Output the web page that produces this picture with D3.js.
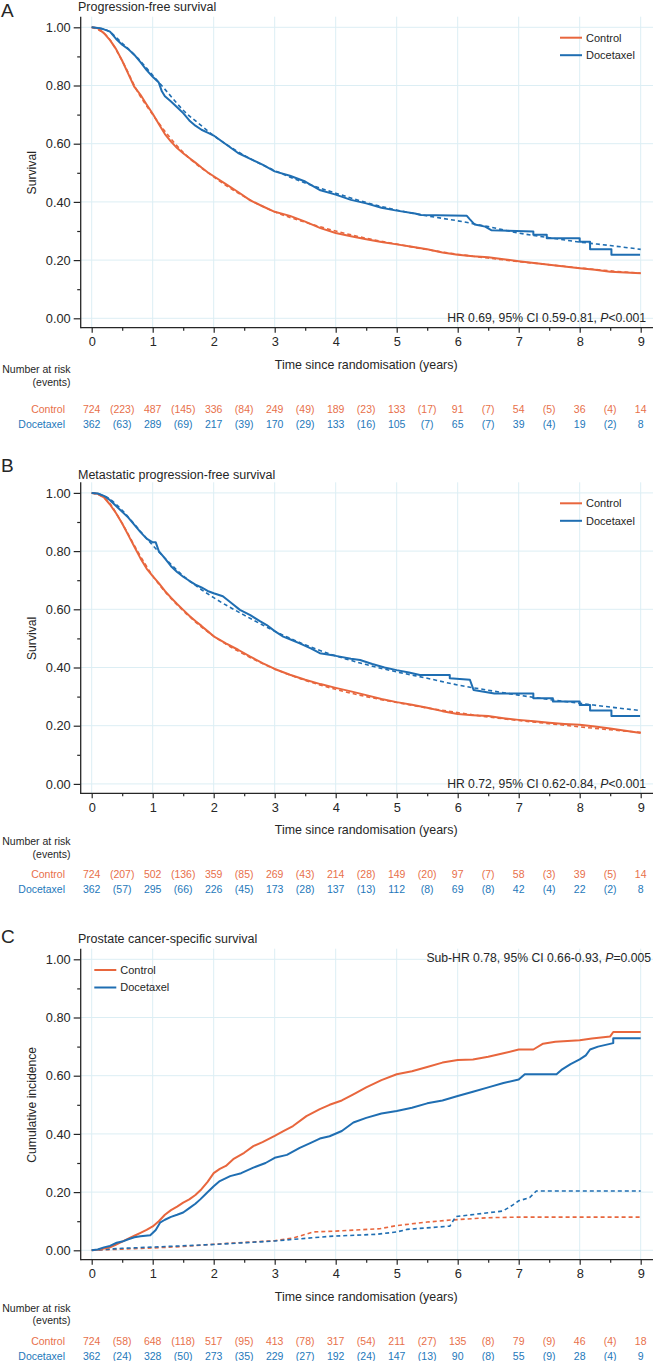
<!DOCTYPE html>
<html><head><meta charset="utf-8">
<script src="https://cdn.jsdelivr.net/npm/d3@7"></script>
<style>body{margin:0;background:#fff} svg{display:block} text{font-family:"Liberation Sans",Arial,Helvetica,sans-serif}</style>
</head><body><svg id="c" width="653" height="1361"></svg>
<script>
// ---------------- DATA ----------------
const years = [0,1,2,3,4,5,6,7,8,9];
const yTicks = [0,0.2,0.4,0.6,0.8,1.0];
const legendNames = ["Control","Docetaxel"];

// Panel A: Progression-free survival
const pfsControl = [[0,1],[0.1,0.997],[0.2,0.98],[0.3,0.956],[0.4,0.925],[0.5,0.885],[0.6,0.84],[0.7,0.795],[0.8,0.768],[0.9,0.735],[1.0,0.703],[1.1,0.668],[1.2,0.633],[1.3,0.607],[1.4,0.585],[1.5,0.567],[1.6,0.551],[1.7,0.535],[1.8,0.518],[1.9,0.502],[2.0,0.488],[2.2,0.461],[2.4,0.434],[2.6,0.405],[2.8,0.385],[3.0,0.366],[3.25,0.352],[3.5,0.332],[3.75,0.31],[4.0,0.293],[4.25,0.282],[4.5,0.272],[4.75,0.262],[5.0,0.254],[5.25,0.246],[5.5,0.237],[5.75,0.226],[6.0,0.218],[6.25,0.213],[6.5,0.21],[6.75,0.203],[7.0,0.196],[7.25,0.19],[7.5,0.184],[7.75,0.178],[8.0,0.172],[8.25,0.167],[8.5,0.16],[8.75,0.157],[9.0,0.155]];
const pfsControlFit = [[0,1],[0.25,0.97],[0.5,0.885],[0.75,0.78],[1,0.70],[1.5,0.57],[2,0.486],[2.5,0.418],[3,0.366],[3.5,0.33],[4,0.3],[4.5,0.275],[5,0.255],[5.5,0.236],[6,0.22],[6.5,0.207],[7,0.195],[7.5,0.184],[8,0.173],[8.5,0.163],[9,0.155]];
const pfsDoce = [[0,1],[0.1,0.998],[0.2,0.993],[0.3,0.985],[0.4,0.96],[0.5,0.94],[0.6,0.925],[0.7,0.905],[0.8,0.88],[0.9,0.853],[1.0,0.83],[1.1,0.81],[1.15,0.78],[1.2,0.763],[1.3,0.745],[1.4,0.725],[1.5,0.705],[1.6,0.68],[1.7,0.662],[1.8,0.648],[1.9,0.638],[2.0,0.628],[2.2,0.598],[2.4,0.568],[2.6,0.548],[2.8,0.528],[3.0,0.505],[3.25,0.49],[3.5,0.47],[3.75,0.44],[4.0,0.425],[4.25,0.407],[4.5,0.395],[4.75,0.38],[5.0,0.37],[5.3,0.36],[5.4,0.355],[6.15,0.352],[6.2,0.34],[6.28,0.322],[6.45,0.315],[6.55,0.303],[7.24,0.298],[7.24,0.287],[7.46,0.287],[7.46,0.275],[8.0,0.275],[8.0,0.263],[8.17,0.263],[8.17,0.237],[8.52,0.237],[8.52,0.218],[8.99,0.218]];
const pfsDoceFit = [[0,1],[0.25,0.99],[0.5,0.945],[0.75,0.895],[1.0,0.835],[1.25,0.775],[1.5,0.715],[1.75,0.67],[2,0.628],[2.5,0.56],[3,0.508],[3.5,0.465],[4,0.43],[4.5,0.398],[5,0.372],[5.5,0.352],[6,0.335],[6.5,0.315],[7,0.293],[7.5,0.277],[8,0.262],[8.5,0.25],[9,0.237]];

// Panel B: Metastatic progression-free survival
const mpfsControl = [[0,1],[0.1,0.997],[0.2,0.985],[0.3,0.96],[0.4,0.93],[0.5,0.895],[0.6,0.855],[0.7,0.815],[0.8,0.775],[0.9,0.74],[1.0,0.714],[1.1,0.69],[1.2,0.663],[1.3,0.64],[1.4,0.618],[1.5,0.598],[1.6,0.578],[1.7,0.56],[1.8,0.543],[1.9,0.525],[2.0,0.507],[2.2,0.483],[2.4,0.461],[2.6,0.437],[2.8,0.415],[3.0,0.395],[3.25,0.375],[3.5,0.358],[3.75,0.343],[4.0,0.33],[4.25,0.318],[4.5,0.305],[4.75,0.292],[5.0,0.281],[5.25,0.272],[5.5,0.262],[5.75,0.25],[6.0,0.24],[6.25,0.236],[6.5,0.233],[6.75,0.226],[7.0,0.22],[7.25,0.215],[7.5,0.21],[7.75,0.206],[8.0,0.203],[8.25,0.197],[8.5,0.19],[8.75,0.183],[9.0,0.175]];
const mpfsControlFit = [[0,1],[0.25,0.975],[0.5,0.895],[0.75,0.8],[1,0.715],[1.5,0.595],[2,0.508],[2.5,0.445],[3,0.395],[3.5,0.356],[4,0.325],[4.5,0.3],[5,0.28],[5.5,0.261],[6,0.245],[6.5,0.23],[7,0.218],[7.5,0.207],[8,0.196],[8.5,0.186],[9,0.177]];
const mpfsDoce = [[0,1],[0.1,0.998],[0.2,0.99],[0.3,0.975],[0.4,0.955],[0.5,0.935],[0.6,0.915],[0.7,0.89],[0.8,0.865],[0.9,0.843],[1.0,0.83],[1.05,0.83],[1.1,0.8],[1.2,0.775],[1.3,0.748],[1.4,0.728],[1.5,0.712],[1.6,0.698],[1.7,0.685],[1.8,0.675],[1.9,0.663],[2.0,0.655],[2.15,0.645],[2.3,0.62],[2.43,0.598],[2.6,0.58],[2.75,0.56],[2.87,0.546],[3.0,0.525],[3.14,0.506],[3.25,0.497],[3.41,0.483],[3.6,0.465],[3.74,0.449],[4.0,0.44],[4.25,0.43],[4.4,0.426],[4.6,0.412],[4.8,0.4],[5.0,0.391],[5.2,0.383],[5.38,0.374],[5.87,0.374],[5.87,0.363],[6.2,0.358],[6.26,0.323],[6.6,0.311],[7.24,0.311],[7.24,0.294],[7.56,0.294],[7.56,0.283],[8.0,0.283],[8.0,0.271],[8.17,0.271],[8.17,0.252],[8.52,0.252],[8.52,0.233],[8.99,0.233]];
const mpfsDoceFit = [[0,1],[0.25,0.985],[0.5,0.94],[0.75,0.88],[1,0.82],[1.25,0.765],[1.5,0.715],[1.75,0.675],[2,0.64],[2.5,0.58],[3,0.525],[3.5,0.478],[4,0.44],[4.5,0.41],[5,0.385],[5.5,0.363],[6,0.34],[6.5,0.322],[7,0.305],[7.5,0.29],[8,0.277],[8.5,0.264],[9,0.252]];

// Panel C: Prostate cancer-specific survival (cumulative incidence)
const pcssControl = [[0,0],[0.1,0.002],[0.2,0.006],[0.3,0.01],[0.4,0.02],[0.5,0.03],[0.6,0.04],[0.7,0.05],[0.8,0.06],[0.9,0.07],[1.0,0.082],[1.1,0.1],[1.2,0.122],[1.3,0.138],[1.4,0.15],[1.5,0.164],[1.6,0.175],[1.7,0.19],[1.8,0.21],[1.9,0.235],[2.0,0.265],[2.1,0.28],[2.2,0.29],[2.32,0.313],[2.5,0.335],[2.65,0.358],[2.8,0.372],[3.0,0.393],[3.15,0.41],[3.3,0.427],[3.52,0.461],[3.74,0.485],[3.9,0.5],[4.1,0.515],[4.29,0.536],[4.5,0.56],[4.75,0.585],[5.0,0.605],[5.25,0.615],[5.5,0.63],[5.75,0.645],[6.0,0.654],[6.25,0.656],[6.5,0.665],[6.75,0.677],[7.0,0.69],[7.24,0.69],[7.4,0.71],[7.6,0.717],[8.0,0.722],[8.2,0.728],[8.5,0.735],[8.55,0.75],[9.0,0.75]];
const pcssControlOther = [[0,0],[0.5,0.004],[1,0.008],[1.5,0.013],[2,0.021],[2.5,0.027],[3,0.033],[3.3,0.042],[3.63,0.063],[4.0,0.066],[4.72,0.074],[5.0,0.085],[5.5,0.097],[5.88,0.104],[6.5,0.112],[7.0,0.114],[9.0,0.114]];
const pcssDoce = [[0,0],[0.1,0.003],[0.2,0.01],[0.3,0.015],[0.41,0.026],[0.5,0.03],[0.6,0.038],[0.7,0.045],[0.8,0.048],[0.96,0.052],[1.05,0.07],[1.12,0.095],[1.2,0.105],[1.3,0.115],[1.4,0.122],[1.5,0.13],[1.6,0.145],[1.7,0.16],[1.78,0.175],[1.89,0.198],[2.0,0.22],[2.1,0.238],[2.27,0.255],[2.45,0.265],[2.65,0.284],[2.85,0.3],[3.0,0.318],[3.2,0.328],[3.41,0.352],[3.6,0.37],[3.74,0.384],[3.9,0.392],[4.1,0.41],[4.29,0.439],[4.5,0.455],[4.75,0.47],[5.0,0.479],[5.25,0.49],[5.5,0.505],[5.75,0.515],[6.0,0.53],[6.25,0.545],[6.5,0.56],[6.75,0.575],[7.0,0.587],[7.1,0.605],[7.62,0.605],[7.7,0.62],[7.85,0.64],[8.0,0.656],[8.1,0.67],[8.17,0.69],[8.3,0.7],[8.55,0.712],[8.55,0.729],[9.0,0.729]];
const pcssDoceOther = [[0,0],[0.5,0.007],[1,0.011],[2,0.02],[3,0.032],[3.9,0.048],[4.67,0.055],[5.0,0.063],[5.17,0.072],[5.87,0.083],[5.97,0.116],[6.3,0.124],[6.74,0.135],[6.9,0.155],[7.0,0.17],[7.18,0.181],[7.29,0.204],[9.0,0.204]];

// Number at risk (events) tables
const riskA_control = ["724","(223)","487","(145)","336","(84)","249","(49)","189","(23)","133","(17)","91","(7)","54","(5)","36","(4)","14"];
const riskA_doce    = ["362","(63)","289","(69)","217","(39)","170","(29)","133","(16)","105","(7)","65","(7)","39","(4)","19","(2)","8"];
const riskB_control = ["724","(207)","502","(136)","359","(85)","269","(43)","214","(28)","149","(20)","97","(7)","58","(3)","39","(5)","14"];
const riskB_doce    = ["362","(57)","295","(66)","226","(45)","173","(28)","137","(13)","112","(8)","69","(8)","42","(4)","22","(2)","8"];
const riskC_control = ["724","(58)","648","(118)","517","(95)","413","(78)","317","(54)","211","(27)","135","(8)","79","(9)","46","(4)","18"];
const riskC_doce    = ["362","(24)","328","(50)","273","(35)","229","(27)","192","(24)","147","(13)","90","(8)","55","(9)","28","(4)","9"];

// ---------------- DRAW ----------------
const ORANGE = "#E8663D", BLUE = "#1F6EB2", ORANGE_T = "#E8704A", BLUE_T = "#2478BA", GRID = "#DCEEF4", INK = "#262626";
const svg = d3.select("#c");
const x = d3.scaleLinear().domain([0, 9]).range([91.7, 640.7]);
const AX_X = 80.7, AX_TOP = 16.7, AX_Y = 327.7;

function panel(cfg) {
  const g = svg.append("g").attr("transform", `translate(0,${cfg.dy})`);
  const y = d3.scaleLinear().domain([0, 1]).range([318.3, 27.3]);

  // grid
  g.append("g").selectAll("line").data(years).join("line")
    .attr("x1", d => x(d)).attr("x2", d => x(d)).attr("y1", AX_TOP).attr("y2", AX_Y)
    .attr("stroke", GRID).attr("stroke-width", 1);
  g.append("g").selectAll("line").data(yTicks).join("line")
    .attr("x1", AX_X).attr("x2", 653).attr("y1", d => y(d)).attr("y2", d => y(d))
    .attr("stroke", GRID).attr("stroke-width", 1);

  // y axis
  const yAx = g.append("g").attr("transform", `translate(${AX_X},0)`)
    .call(d3.axisLeft(y).tickValues(yTicks).tickFormat(d3.format(".2f")).tickSize(7).tickPadding(3));
  const yMin = g.append("g").attr("transform", `translate(${AX_X},0)`)
    .call(d3.axisLeft(y).tickValues([0.1,0.3,0.5,0.7,0.9]).tickFormat("").tickSize(3.5));
  // x axis
  const xAx = g.append("g").attr("transform", `translate(0,${AX_Y})`)
    .call(d3.axisBottom(x).tickValues(years).tickFormat(d3.format("d")).tickSize(5).tickPadding(4.5));
  const xMin = g.append("g").attr("transform", `translate(0,${AX_Y})`)
    .call(d3.axisBottom(x).tickValues([0.5,1.5,2.5,3.5,4.5,5.5,6.5,7.5,8.5]).tickFormat("").tickSize(3));
  [yAx, yMin, xAx, xMin].forEach(a => {
    a.select(".domain").remove();
    a.selectAll(".tick line").attr("stroke", INK).attr("stroke-width", 1.2);
    a.selectAll("text").attr("fill", INK).style("font-size", "12.8px");
  });
  g.append("line").attr("x1", AX_X).attr("x2", AX_X).attr("y1", AX_TOP).attr("y2", AX_Y + 0.6).attr("stroke", INK).attr("stroke-width", 1.3);
  g.append("line").attr("x1", AX_X).attr("x2", 653).attr("y1", AX_Y).attr("y2", AX_Y).attr("stroke", INK).attr("stroke-width", 1.3);

  // axis titles
  g.append("text").attr("transform", `translate(32,${y(0.5)}) rotate(-90)`).attr("text-anchor", "middle")
    .attr("dy", "0.35em").attr("fill", INK).style("font-size", "12.2px").text(cfg.yTitle);
  g.append("text").attr("x", (x(0) + x(9)) / 2).attr("y", 368.5).attr("text-anchor", "middle")
    .attr("fill", INK).style("font-size", "12.4px").text("Time since randomisation (years)");

  // panel letter & title
  g.append("text").attr("x", 1).attr("y", cfg.letterY).attr("fill", INK).style("font-size", "19px").text(cfg.letter);
  g.append("text").attr("x", 78).attr("y", cfg.titleY).attr("fill", INK).style("font-size", "12.5px").text(cfg.title);

  // curves
  const line = d3.line().x(d => x(d[0])).y(d => y(d[1]));
  const smooth = d3.line().x(d => x(d[0])).y(d => y(d[1])).curve(d3.curveMonotoneX);
  const dashLine = cfg.fitSmooth ? smooth : line;
  g.append("path").datum(cfg.ctrlFit).attr("d", dashLine).attr("fill", "none").attr("stroke", ORANGE).attr("stroke-width", 1.6).attr("stroke-dasharray", "4,3");
  g.append("path").datum(cfg.doceFit).attr("d", dashLine).attr("fill", "none").attr("stroke", BLUE).attr("stroke-width", 1.6).attr("stroke-dasharray", "4,3");
  g.append("path").datum(cfg.ctrl).attr("d", line).attr("fill", "none").attr("stroke", ORANGE).attr("stroke-width", 2).attr("stroke-linejoin", "round");
  g.append("path").datum(cfg.doce).attr("d", line).attr("fill", "none").attr("stroke", BLUE).attr("stroke-width", 2).attr("stroke-linejoin", "round");

  // legend
  const lg = g.append("g").attr("transform", `translate(${cfg.legX},${cfg.legY})`);
  legendNames.forEach((n, i) => {
    lg.append("line").attr("x1", 0).attr("x2", 22).attr("y1", i * 17.5).attr("y2", i * 17.5)
      .attr("stroke", i ? BLUE : ORANGE).attr("stroke-width", 2);
    lg.append("text").attr("x", 26).attr("y", i * 17.5).attr("dy", "0.35em").attr("fill", INK)
      .style("font-size", "11px").text(n);
  });

  // statistic annotation
  const st = g.append("text").attr("x", cfg.statX).attr("y", cfg.statY).attr("text-anchor", "end")
    .attr("fill", INK).style("font-size", "12.2px");
  st.append("tspan").text(cfg.stat[0]);
  st.append("tspan").style("font-style", "italic").text("P");
  st.append("tspan").text(cfg.stat[1]);

  // risk table
  g.append("text").attr("x", 70.5).attr("y", cfg.nrY).attr("text-anchor", "end").attr("fill", INK)
    .style("font-size", "10.5px").text("Number at risk");
  g.append("text").attr("x", 70.5).attr("y", cfg.nrY + 12.5).attr("text-anchor", "end").attr("fill", INK)
    .style("font-size", "10.5px").text("(events)");
  const rows = [[cfg.riskCtrl, ORANGE_T, "Control", 412.5], [cfg.riskDoce, BLUE_T, "Docetaxel", 427.5]];
  rows.forEach(([vals, col, name, ry]) => {
    g.append("text").attr("x", 65).attr("y", ry).attr("text-anchor", "end").attr("fill", col)
      .style("font-size", "10.5px").text(name);
    g.append("g").selectAll("text").data(vals).join("text")
      .attr("x", (d, i) => x(i * 0.5)).attr("y", ry).attr("text-anchor", "middle")
      .attr("fill", col).style("font-size", "10.5px").text(d => d);
  });
}

panel({dy: 0, letter: "A", letterY: 16.5, title: "Progression-free survival", titleY: 10.5, yTitle: "Survival",
  ctrl: pfsControl, ctrlFit: pfsControlFit, doce: pfsDoce, doceFit: pfsDoceFit, fitSmooth: true,
  legX: 560, legY: 37.7, statX: 646, statY: 322, stat: ["HR 0.69, 95% CI 0.59-0.81, ", "<0.001"],
  nrY: 373, riskCtrl: riskA_control, riskDoce: riskA_doce});
panel({dy: 465.6, letter: "B", letterY: 6, title: "Metastatic progression-free survival", titleY: 13, yTitle: "Survival",
  ctrl: mpfsControl, ctrlFit: mpfsControlFit, doce: mpfsDoce, doceFit: mpfsDoceFit, fitSmooth: true,
  legX: 560, legY: 37.7, statX: 646, statY: 322, stat: ["HR 0.72, 95% CI 0.62-0.84, ", "<0.001"],
  nrY: 379.5, riskCtrl: riskB_control, riskDoce: riskB_doce});
panel({dy: 932, letter: "C", letterY: 10.5, title: "Prostate cancer-specific survival", titleY: 11, yTitle: "Cumulative incidence",
  ctrl: pcssControl, ctrlFit: pcssControlOther, doce: pcssDoce, doceFit: pcssDoceOther, fitSmooth: false,
  legX: 94.3, legY: 38, statX: 651, statY: 30, stat: ["Sub-HR 0.78, 95% CI 0.66-0.93, ", "=0.005"],
  nrY: 379.5, riskCtrl: riskC_control, riskDoce: riskC_doce});
</script></body></html>
